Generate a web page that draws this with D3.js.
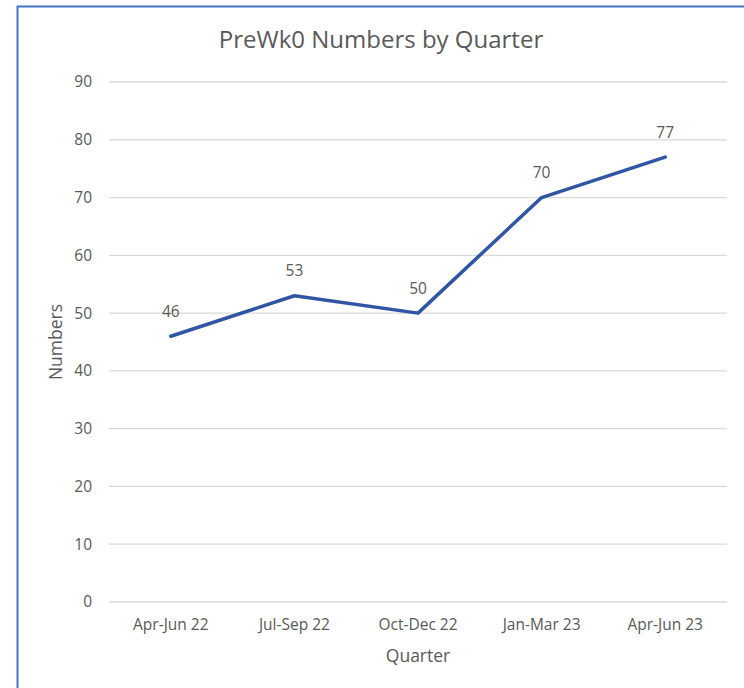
<!DOCTYPE html>
<html>
<head>
<meta charset="utf-8">
<script src="https://cdn.jsdelivr.net/npm/d3@7"></script>
<style>
	body { margin: 0; background: #fff; }
	text { font-family: "Open Sans", sans-serif; fill: #595959; }
</style>
</head>
<body>
<svg id="chart" width="744" height="688"></svg>
<script>

var quarters = ["Apr-Jun 22", "Jul-Sep 22", "Oct-Dec 22", "Jan-Mar 23", "Apr-Jun 23"];
var numbers = [46, 53, 50, 70, 77];
var yticks = [0, 10, 20, 30, 40, 50, 60, 70, 80, 90];

var svg = d3.select("#chart");

// frame of the pasted chart
svg.append("path")
	.attr("d", "M17.5,688 V6.5 H744")
	.attr("fill", "none")
	.attr("stroke", "#4472C4")
	.attr("stroke-width", 2);

const margin = { top: 82, right: 17, bottom: 86, left: 109 },
	width = 744 - margin.left - margin.right,
	height = 688 - margin.top - margin.bottom;

var g = svg.append("g").attr("transform", `translate(${margin.left},${margin.top})`);

var x = d3.scaleBand(quarters, [0, width]);
var y = d3.scaleLinear([0, 90], [height, 0]);

// gridlines
g.selectAll(".grid")
	.data(yticks)
	.join("line")
	.attr("class", "grid")
	.attr("x1", 0).attr("x2", width)
	.attr("y1", d => y(d)).attr("y2", d => y(d))
	.attr("stroke", "#d9d9d9")
	.attr("stroke-width", 1.3);

var yaxis = d3.axisLeft(y).tickValues(yticks).tickSize(0).tickPadding(17);
g.append("g").call(yaxis)
	.call(a => a.select(".domain").remove())
	.selectAll("text").style("font-size", "15.5px").attr("fill", "#595959");

var xaxis = d3.axisBottom(x).tickSize(0).tickPadding(17);
g.append("g").attr("transform", `translate(0,${height})`).call(xaxis)
	.call(a => a.select(".domain").remove())
	.selectAll("text").style("font-size", "15.5px").attr("fill", "#595959");

var pts = quarters.map((q, i) => ({ q: q, v: numbers[i] }));

g.append("path")
	.datum(pts)
	.attr("fill", "none")
	.attr("stroke", "#2F55A3")
	.attr("stroke-width", 3.5)
	.attr("stroke-linejoin", "round")
	.attr("stroke-linecap", "round")
	.attr("d", d3.line(d => x(d.q) + x.bandwidth()/2, d => y(d.v)));

g.selectAll(".lbl")
	.data(pts)
	.join("text")
	.attr("class", "lbl")
	.attr("x", d => x(d.q) + x.bandwidth()/2)
	.attr("y", d => y(d.v) - 19.5)
	.attr("text-anchor", "middle")
	.style("font-size", "15.5px")
	.text(d => d.v);

svg.append("text")
	.attr("x", 381).attr("y", 48)
	.attr("text-anchor", "middle")
	.style("font-size", "24px")
	.text("PreWk0 Numbers by Quarter");

svg.append("text")
	.attr("x", margin.left + width/2).attr("y", 662)
	.attr("text-anchor", "middle")
	.style("font-size", "17.5px")
	.text("Quarter");

svg.append("text")
	.attr("transform", `translate(62,${margin.top + y(45)}) rotate(-90)`)
	.attr("text-anchor", "middle")
	.style("font-size", "17.5px")
	.text("Numbers");

</script>
</body>
</html>
